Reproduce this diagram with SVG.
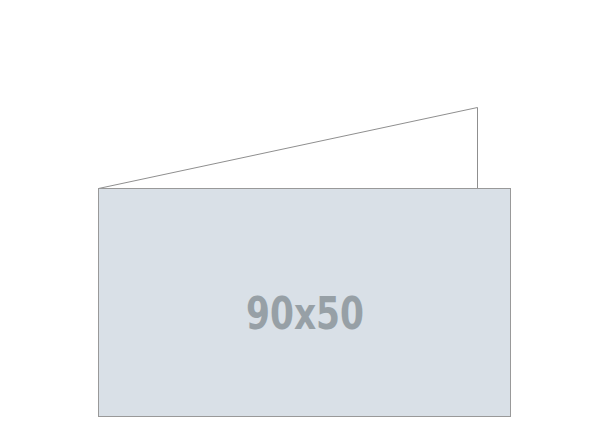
<svg xmlns="http://www.w3.org/2000/svg" width="610" height="440" viewBox="0 0 610 440">
<style>
.edge{fill:#ffffff;stroke:#8f8f8f;stroke-width:1}
.card{fill:#d9e0e7;stroke:#999999;stroke-width:1}
.lbl{font-family:"DejaVu Sans Condensed","DejaVu Sans",sans-serif;font-stretch:condensed;font-weight:bold;font-size:44px;fill:#97a0a6;text-anchor:middle}
</style>
<rect width="610" height="440" fill="#ffffff"/>
<g id="back">
<polygon class="edge" points="98.5,188.5 477.5,107.5 477.5,188.5"/>
</g>
<g id="front">
<rect class="card" x="98.5" y="188.5" width="412" height="228"/>
<text class="lbl" x="305" y="329" textLength="118" lengthAdjust="spacingAndGlyphs">90x50</text>
</g>
</svg>
